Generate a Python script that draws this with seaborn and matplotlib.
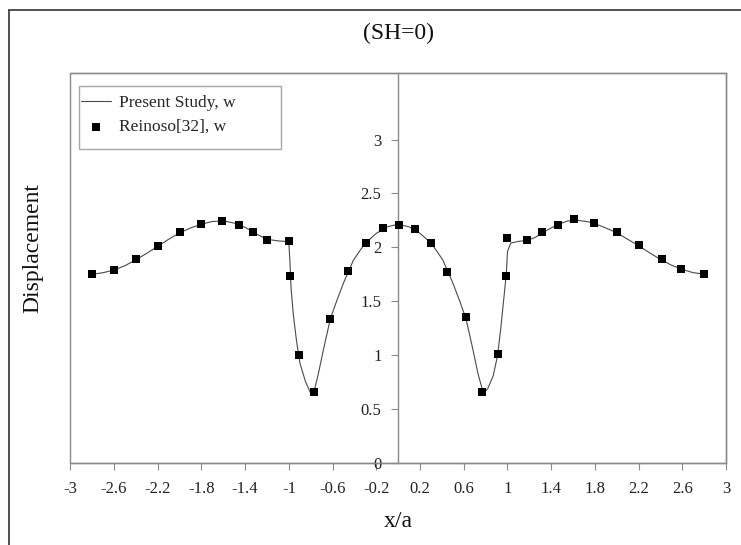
import matplotlib
matplotlib.use("Agg")
import matplotlib.pyplot as plt
import seaborn as sns
from matplotlib.patches import Rectangle
from matplotlib.lines import Line2D

# Present study: vertical displacement w along x/a
study_x = [-2.8, -2.7, -2.6, -2.5, -2.4, -2.3, -2.2, -2.1, -2.0, -1.9, -1.8, -1.7,
           -1.6, -1.5, -1.4, -1.3, -1.2, -1.1, -1.03, -1.0, -0.99, -0.98, -0.96,
           -0.93, -0.9, -0.85, -0.8, -0.77, -0.73, -0.68, -0.62, -0.56, -0.5,
           -0.41, -0.35, -0.3, -0.2, -0.1, 0.0,
           0.1, 0.2, 0.3, 0.35, 0.41, 0.45, 0.5, 0.56, 0.62, 0.68, 0.73, 0.78,
           0.82, 0.87, 0.91, 0.94, 0.97, 0.99, 1.0, 1.03, 1.1, 1.18, 1.25, 1.32,
           1.4, 1.46, 1.55, 1.65, 1.75, 1.8, 1.9, 2.0, 2.1, 2.2, 2.3, 2.4, 2.5,
           2.6, 2.7, 2.8]
study_w = [1.75, 1.765, 1.79, 1.83, 1.885, 1.945, 2.01, 2.075, 2.135, 2.18, 2.215, 2.24,
           2.245, 2.225, 2.185, 2.125, 2.075, 2.06, 2.055, 2.03, 1.86, 1.62, 1.38,
           1.13, 0.93, 0.76, 0.645, 0.66, 0.83, 1.07, 1.34, 1.51, 1.67,
           1.88, 1.97, 2.04, 2.13, 2.19, 2.215,
           2.19, 2.13, 2.04, 1.97, 1.88, 1.785, 1.67, 1.51, 1.34, 1.07, 0.83, 0.645,
           0.69, 0.81, 1.0, 1.26, 1.56, 1.76, 1.96, 2.04, 2.055, 2.065, 2.09, 2.135,
           2.18, 2.21, 2.245, 2.25, 2.235, 2.22, 2.18, 2.135, 2.075, 2.015, 1.95, 1.888, 1.835,
           1.795, 1.765, 1.752]

# Reinoso [32]
ref_x = [-2.8, -2.6, -2.4, -2.2, -2.0, -1.8, -1.61, -1.46, -1.33, -1.2, -1.0, -0.99,
         -0.91, -0.77, -0.62, -0.46, -0.29, -0.14, 0.01, 0.15, 0.3, 0.45, 0.62, 0.77,
         0.91, 0.99, 1.0, 1.18, 1.32, 1.46, 1.61, 1.79, 2.0, 2.2, 2.41, 2.59, 2.8]
ref_w = [1.75, 1.79, 1.89, 2.01, 2.14, 2.22, 2.24, 2.21, 2.14, 2.07, 2.06, 1.73,
         1.0, 0.66, 1.34, 1.78, 2.04, 2.18, 2.21, 2.17, 2.04, 1.77, 1.35, 0.66,
         1.01, 1.73, 2.09, 2.07, 2.14, 2.21, 2.26, 2.23, 2.14, 2.02, 1.89, 1.80, 1.75]

x_ticks = [-3, -2.6, -2.2, -1.8, -1.4, -1, -0.6, -0.2, 0.2, 0.6, 1, 1.4, 1.8, 2.2, 2.6, 3]
x_tick_labels = ["-3", "-2.6", "-2.2", "-1.8", "-1.4", "-1", "-0.6", "-0.2",
                 "0.2", "0.6", "1", "1.4", "1.8", "2.2", "2.6", "3"]
y_ticks = [0, 0.5, 1, 1.5, 2, 2.5, 3]
y_tick_labels = ["0", "0.5", "1", "1.5", "2", "2.5", "3"]

sns.set_style("white")
plt.rcParams["font.family"] = ["Liberation Serif", "DejaVu Serif"]
plt.rcParams["axes.unicode_minus"] = False

frame_grey = "#8a8a8a"

fig = plt.figure(figsize=(7.41, 5.45), dpi=100)
ax = fig.add_axes([0.0949, 0.1505, 0.8849, 0.7161])

sns.lineplot(x=study_x, y=study_w, ax=ax, color="#4a4a4a", linewidth=0.8,
             estimator=None, label="Present Study, w")
sns.scatterplot(x=ref_x, y=ref_w, ax=ax, marker="s", s=30, color="black",
                edgecolor="black", linewidth=0, zorder=3, label="Reinoso[32], w")

ax.set_xlim(-3, 3)
ax.set_ylim(0, 3.62)
ax.set_xticks(x_ticks)
ax.set_xticklabels(x_tick_labels)
ax.set_yticks(y_ticks)
ax.set_yticklabels(y_tick_labels)

# y axis runs through x = 0; the box's left edge is drawn separately
ax.spines["left"].set_position(("data", 0))
for side in ["left", "right", "top", "bottom"]:
    ax.spines[side].set_color(frame_grey)
    ax.spines[side].set_linewidth(1.0)
ax.add_patch(Rectangle((0, 0), 1, 1, transform=ax.transAxes, fill=False,
                       edgecolor=frame_grey, linewidth=1.0, clip_on=False, zorder=0.5))

ax.tick_params(axis="both", direction="out", length=5, width=0.8, color=frame_grey,
               labelsize=12, labelcolor="#222222")
ax.tick_params(axis="x", bottom=True, pad=8)
ax.tick_params(axis="y", left=True, pad=7)

ax.set_title("(SH=0)", fontsize=17, y=1.1017, pad=0, va="center", color="#111111")
ax.set_xlabel("x/a", fontsize=17, va="center", color="#111111")
ax.xaxis.set_label_coords(0.5, -0.151)
ax.set_ylabel("Displacement", fontsize=17, va="center", color="#111111")
ax.yaxis.set_label_coords(-0.0569, 0.551)

leg = ax.legend(loc="upper left", bbox_to_anchor=(0.0163, 0.943), borderaxespad=0,
                borderpad=0, frameon=False, handlelength=1.73, handletextpad=0.46,
                labelspacing=0.45, fontsize=12.5)
ax.add_patch(Rectangle((0.0133, 0.8045), 0.308, 0.1614, transform=ax.transAxes,
                       fill=False, edgecolor="#a8a8a8", linewidth=1.0, zorder=4))

# outer page frame
fig.add_artist(Line2D([0.0128, 0.0128], [0, 0.9817], transform=fig.transFigure,
                      color="#333333", linewidth=1.2))
fig.add_artist(Line2D([0.0128, 1.0], [0.9817, 0.9817], transform=fig.transFigure,
                      color="#333333", linewidth=1.2))

fig.savefig("out.png", dpi=100)
